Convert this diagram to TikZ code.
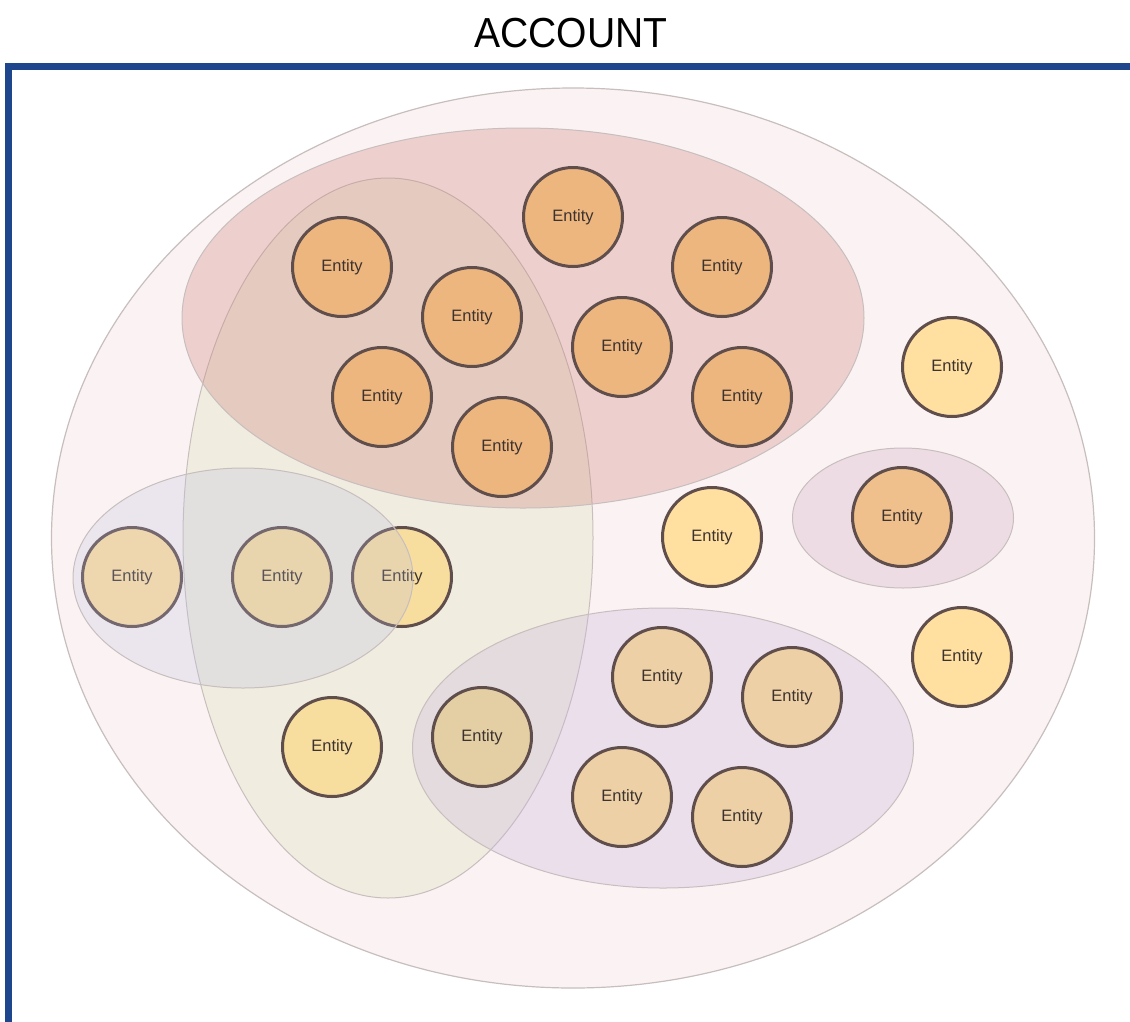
\documentclass[tikz,border=0pt]{standalone}
\usepackage{fontspec}
\setmainfont{Liberation Sans}
\usetikzlibrary{shapes.geometric}
\definecolor{frameblue}{RGB}{30,70,140}
\definecolor{bigfill}{RGB}{251,243,243}
\definecolor{edgegrey}{RGB}{200,190,190}
\definecolor{ringcol}{RGB}{95,78,75}
\definecolor{txtcol}{RGB}{60,50,48}
\definecolor{yellowbase}{RGB}{255,224,160}
\definecolor{yellowdim}{RGB}{247,221,158}
\definecolor{orangebase}{RGB}{237,182,127}
\definecolor{orangesoft}{RGB}{239,192,140}
\definecolor{wheat}{RGB}{237,208,165}
\definecolor{wheatgrey}{RGB}{228,207,164}
\definecolor{ovred}{RGB}{205,130,120}
\definecolor{ovyellow}{RGB}{215,220,180}
\definecolor{ovblue}{RGB}{185,190,225}
\definecolor{ovpurple}{RGB}{200,180,220}
\definecolor{ovpink}{RGB}{210,170,195}
\tikzset{
  entity/.style={circle, draw=ringcol, line width=3pt, minimum size=99pt, inner sep=0pt,
    font=\fontsize{16.5}{16.5}\selectfont, text=txtcol},
  yent/.style={entity, fill=yellowbase},
  oent/.style={entity, fill=orangebase},
  went/.style={entity, fill=wheat},
  group/.style={ellipse, draw=edgegrey, line width=1pt, inner sep=0pt, fill opacity=0.3}
}
\begin{document}
\begin{tikzpicture}[x=1pt, y=-1pt]
\useasboundingbox (0,0) rectangle (1130,1021);
\clip (0,0) rectangle (1130,1021);
\fill[white] (0,0) rectangle (1130,1021);
% title
\node (title) at (571,33) {\fontsize{42}{42}\selectfont\scalebox{0.93}[1]{ACCOUNT}};
% frame
\draw[frameblue, line width=7pt] (8.5,1040) -- (8.5,66) -- (1140,66);
% account ellipse
\node[ellipse, draw=edgegrey, fill=bigfill, line width=1.2pt, minimum width=1043pt, minimum height=900pt, inner sep=0pt] (acct) at (573,538) {};
% group ellipses under the entities
\node[group, fill=ovyellow, minimum width=410pt, minimum height=720pt] (gyellow) at (388,538) {};
\node[group, fill=ovred, minimum width=682pt, minimum height=380pt] (gred) at (523,318) {};
\node[group, fill=ovpurple, minimum width=501pt, minimum height=280pt] (gpurple) at (663,748) {};
\node[group, fill=ovpink, minimum width=221pt, minimum height=140pt] (gpink) at (903,518) {};
% entities
\node[oent] (e1) at (573,217) {Entity};
\node[oent] (e2) at (342,267) {Entity};
\node[oent] (e3) at (472,317) {Entity};
\node[oent] (e4) at (722,267) {Entity};
\node[oent] (e5) at (622,347) {Entity};
\node[oent] (e6) at (382,397) {Entity};
\node[oent] (e7) at (502,447) {Entity};
\node[oent] (e8) at (742,397) {Entity};
\node[yent] (e9) at (952,367) {Entity};
\node[yent] (e10) at (712,537) {Entity};
\node[entity, fill=orangesoft] (e11) at (902,517) {Entity};
\node[yent] (e12) at (962,657) {Entity};
\node[yent] (e13) at (132,577) {Entity};
\node[entity, fill=yellowdim] (e14) at (282,577) {Entity};
\node[entity, fill=yellowdim] (e15) at (402,577) {Entity};
\node[entity, fill=yellowdim] (e16) at (332,747) {Entity};
\node[entity, fill=wheatgrey] (e17) at (482,737) {Entity};
\node[went] (e18) at (662,677) {Entity};
\node[went] (e19) at (792,697) {Entity};
\node[went] (e20) at (622,797) {Entity};
\node[went] (e21) at (742,817) {Entity};
% blue group lies over its entities
\node[group, fill=ovblue, fill opacity=0.24, minimum width=340pt, minimum height=220pt] (gblue) at (243,578) {};
\end{tikzpicture}
\end{document}
